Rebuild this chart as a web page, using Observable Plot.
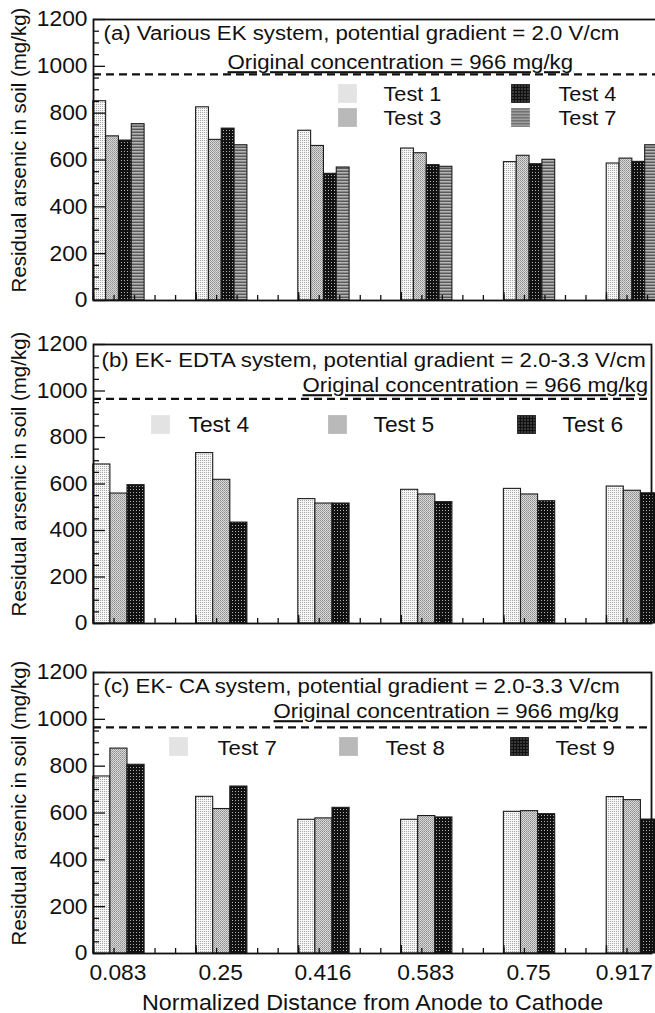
<!DOCTYPE html>
<html><head><meta charset="utf-8">
<script src="https://cdn.jsdelivr.net/npm/d3@7"></script>
<script src="https://cdn.jsdelivr.net/npm/@observablehq/plot@0.6"></script>
<style>
html,body{margin:0;padding:0;background:#fff;}
#wrap{width:655px;height:1013px;overflow:hidden;position:relative;}
#wrap svg{display:block;}
</style></head><body>
<svg width="0" height="0" style="position:absolute">
<defs>
<pattern id="pLight" width="2" height="2" patternUnits="userSpaceOnUse"><rect width="2" height="2" fill="#f6f6f6"/><rect width="1" height="1" fill="#a8a8a8"/></pattern>
<pattern id="pMed" width="2" height="2" patternUnits="userSpaceOnUse"><rect width="2" height="2" fill="#d8d8d8"/><rect width="1" height="1" fill="#8e8e8e"/><rect x="1" y="1" width="1" height="1" fill="#a4a4a4"/></pattern>
<pattern id="pDark" width="3" height="3" patternUnits="userSpaceOnUse"><rect width="3" height="3" fill="#111"/><rect x="1" y="1" width="1" height="1" fill="#b0b0b0"/></pattern>
<pattern id="pLines" width="4" height="3" patternUnits="userSpaceOnUse"><rect width="4" height="1" fill="#5a5a5a"/><rect y="1" width="4" height="1" fill="#b4b4b4"/><rect y="2" width="4" height="1" fill="#8a8a8a"/></pattern>
</defs></svg>
<div id="wrap"></div>
<script>
// ---- data ----
const distances = [0.083, 0.25, 0.416, 0.583, 0.75, 0.917];
const distanceLabels = ["0.083", "0.25", "0.416", "0.583", "0.75", "0.917"];
const originalConcentration = 966;

const testsA = ["Test 1", "Test 3", "Test 4", "Test 7"];
const a_test1 = [851, 825, 725, 649, 591, 585];
const a_test3 = [701, 686, 660, 629, 618, 606];
const a_test4 = [683, 734, 541, 578, 582, 592];
const a_test7 = [753, 663, 568, 571, 601, 663];

const testsB = ["Test 4", "Test 5", "Test 6"];
const b_test4 = [684, 733, 535, 575, 579, 589];
const b_test5 = [559, 618, 516, 555, 555, 571];
const b_test6 = [595, 434, 516, 522, 526, 560];

const testsC = ["Test 7", "Test 8", "Test 9"];
const c_test7 = [756, 669, 571, 571, 605, 668];
const c_test8 = [875, 617, 577, 587, 608, 655];
const c_test9 = [806, 713, 622, 581, 595, 572];

const yMajor = [0, 200, 400, 600, 800, 1000, 1200];
const yMinor = d3.range(0, 1201, 50).filter(v => v % 200 !== 0);

// ---- layout ----
const FONT = "'Liberation Sans', Arial, Helvetica, sans-serif";
const STRETCH = 1.06;
const GROUP = 1 / 12;          // width of a group of bars in x units
const PX_PER_UNIT = 615.6;
const ML = 93;

function panel(opt) {
  const {width, height, marginTop, marginBottom, marginRight, tests, values, fills,
         title, titlePos, origPos, legend, legendSize, xLabels} = opt;
  const plotW = width - ML - marginRight;
  const x0 = 1 / 24, x1 = x0 + plotW / PX_PER_UNIT;
  const n = tests.length;
  const marks = [];
  tests.forEach((t, j) => {
    const rows = distances.map((d, i) => ({d, v: values[j][i]}));
    marks.push(Plot.rectY(rows, {
      x1: r => r.d - GROUP / 2 + j * GROUP / n,
      x2: r => r.d - GROUP / 2 + (j + 1) * GROUP / n,
      y1: 0, y2: "v",
      fill: fills[j], stroke: "#1c1c1c", strokeWidth: 1.1
    }));
  });
  marks.push(Plot.ruleY([originalConcentration], {stroke: "#111", strokeWidth: 2.2, strokeDasharray: "8,5"}));
  // axes (inward ticks)
  marks.push(Plot.axisY({ticks: yMajor, tickSize: 12, dx: 12, tickFormat: () => "", label: null, stroke: "#111", strokeWidth: 1.3}));
  marks.push(Plot.axisY({ticks: yMinor, tickSize: 6, dx: 6, tickFormat: () => "", label: null, stroke: "#111", strokeWidth: 1.3}));
  const xMinor = d3.range(x0, x1, 1 / 30);
  const xMajor = d3.range(x0, x1, 1 / 6);
  marks.push(Plot.axisX({ticks: xMinor, tickSize: 5, dy: -5, tickFormat: () => "", label: null, stroke: "#111", strokeWidth: 1.3}));
  marks.push(Plot.axisX({ticks: xMajor, tickSize: 8, dy: -8, tickFormat: () => "", label: null, stroke: "#111", strokeWidth: 1.3}));
  marks.push(Plot.frame({stroke: "#111", strokeWidth: 1.8}));
  // y tick labels
  marks.push(Plot.text(yMajor, {y: d => d, text: d => `${d}`, frameAnchor: "left", dx: -6, textAnchor: "end", lineAnchor: "middle", fontSize: 21.5}));
  // y label
  marks.push(Plot.text(["Residual arsenic in soil (mg/kg)"], {frameAnchor: "left", rotate: -90, dx: -74, dy: -10, fontSize: 20.5, lineAnchor: "middle", textAnchor: "middle"}));
  // panel title & original concentration
  marks.push(Plot.text([title], {frameAnchor: "top-left", dx: titlePos[0], dy: titlePos[1], textAnchor: "start", lineAnchor: "middle", fontSize: 21}));
  marks.push(Plot.text([`Original concentration = ${originalConcentration} mg/kg`], {frameAnchor: "top-left", dx: origPos[0], dy: origPos[1], textAnchor: "start", lineAnchor: "middle", fontSize: 21}));
  // legend
  legend.forEach((L, j) => {
    marks.push(Plot.dot([0], {frameAnchor: "top-left", dx: L.sx, dy: L.sy, symbol: "square", r: 10.6, fill: fills[j], stroke: "none"}));
    marks.push(Plot.text([tests[j]], {frameAnchor: "top-left", dx: L.tx, dy: L.ty, textAnchor: "start", lineAnchor: "middle", fontSize: legendSize}));
  });
  if (xLabels) {
    const last = distances.length - 1;
    marks.push(Plot.text(distances.slice(0, last), {x: d => d, text: (d, i) => distanceLabels[i], frameAnchor: "bottom", dx: -1, dy: 20, lineAnchor: "middle", fontSize: 21.5}));
    marks.push(Plot.text(distances.slice(last), {x: d => d, text: () => distanceLabels[last], frameAnchor: "bottom", dx: -8, dy: 20, lineAnchor: "middle", fontSize: 21.5}));
    marks.push(Plot.text(["Normalized Distance from Anode to Cathode"], {frameAnchor: "bottom", dy: 49, lineAnchor: "middle", fontSize: 22}));
  }
  const svg = Plot.plot({
    width, height, marginTop, marginBottom, marginLeft: ML, marginRight,
    style: {fontFamily: FONT, fontSize: "20px", maxWidth: "none", background: "#fff", color: "#111", overflow: "visible"},
    x: {type: "linear", domain: [x0, x1]},
    y: {domain: [0, 1200]},
    marks
  });
  // horizontal stretch of horizontal text, as in the reference
  svg.querySelectorAll("text").forEach(t => {
    const tr = t.getAttribute("transform") || "";
    if (/rotate/.test(tr)) return;
    t.setAttribute("transform", `${tr} scale(${STRETCH},1)`);
    if (t.textContent.startsWith("Original")) t.style.textDecoration = "underline";
  });
  return svg;
}

const wrap = document.getElementById("wrap");
wrap.appendChild(panel({
  width: 662, height: 320, marginTop: 19, marginBottom: 20, marginRight: 0,
  tests: testsA, values: [a_test1, a_test3, a_test4, a_test7],
  fills: ["url(#pLight)", "url(#pMed)", "url(#pDark)", "url(#pLines)"],
  title: "(a) Various EK system, potential gradient = 2.0 V/cm",
  titlePos: [10, 14], origPos: [134, 43],
  legendSize: 20.5,
  legend: [
    {sx: 254, sy: 74, tx: 290, ty: 75},
    {sx: 254, sy: 98, tx: 290, ty: 99},
    {sx: 427, sy: 74, tx: 465, ty: 75},
    {sx: 427, sy: 98, tx: 465, ty: 99}
  ]
}));
wrap.appendChild(panel({
  width: 655, height: 323, marginTop: 24, marginBottom: 20, marginRight: 4,
  tests: testsB, values: [b_test4, b_test5, b_test6],
  fills: ["url(#pLight)", "url(#pMed)", "url(#pDark)"],
  title: "(b) EK- EDTA system, potential gradient = 2.0-3.3 V/cm",
  titlePos: [8, 16], origPos: [209, 41],
  legendSize: 21.5,
  legend: [
    {sx: 67, sy: 80, tx: 95, ty: 81},
    {sx: 244, sy: 80, tx: 280, ty: 81},
    {sx: 433, sy: 80, tx: 469, ty: 81}
  ]
}));
wrap.appendChild(panel({
  width: 655, height: 370, marginTop: 29, marginBottom: 60, marginRight: 4,
  tests: testsC, values: [c_test7, c_test8, c_test9],
  fills: ["url(#pLight)", "url(#pMed)", "url(#pDark)"],
  title: "(c) EK- CA system, potential gradient = 2.0-3.3 V/cm",
  titlePos: [10, 14], origPos: [180, 39],
  legendSize: 21,
  legend: [
    {sx: 85, sy: 74, tx: 124, ty: 76},
    {sx: 255, sy: 74, tx: 292, ty: 76},
    {sx: 426, sy: 74, tx: 462, ty: 76}
  ],
  xLabels: true
}));
</script>
</body></html>
